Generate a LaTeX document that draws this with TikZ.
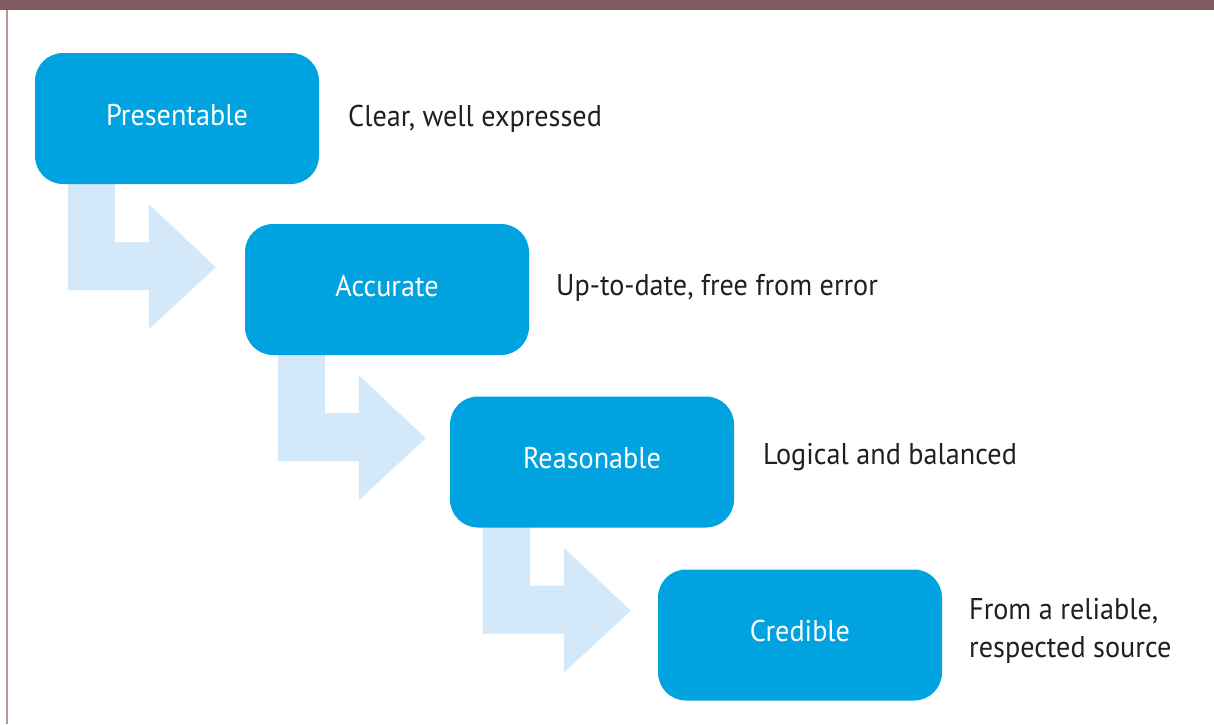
\documentclass[tikz,border=0pt]{standalone}
\usepackage{fontspec}
\setmainfont[FakeStretch=0.94]{PT Sans}
\usetikzlibrary{calc,backgrounds}
\definecolor{barcol}{HTML}{7F5A60}
\definecolor{linecol}{HTML}{B9969D}
\definecolor{boxblue}{HTML}{00A3E0}
\definecolor{arrblue}{HTML}{D3E8F9}
\definecolor{txtcol}{HTML}{231F20}
\tikzset{
  stepbox/.style={fill=boxblue, rounded corners=28pt, minimum width=284pt, minimum height=131pt,
    inner sep=0pt, text=white, text height=21pt, text depth=8pt, font=\fontsize{30}{34}\selectfont},
  desc/.style={anchor=base west, text=txtcol, inner sep=0pt, align=left, font=\fontsize{30}{38}\selectfont},
  flowarrow/.style={fill=arrblue},
}
\begin{document}
\begin{tikzpicture}[x=1pt,y=1pt]
\useasboundingbox (0,0) rectangle (1214,-724);
\fill[barcol] (0,0) rectangle (1214,-10);
\draw[linecol, line width=1.5pt] (7,-10) -- (7,-724);
% boxes
\node[stepbox] (b1) at (177,-118.5) {Presentable};
\node[stepbox] (b2) at (387,-289.5) {Accurate};
\node[stepbox] (b3) at (592,-462) {Reasonable};
\node[stepbox] (b4) at (800,-635) {Credible};
% arrows (behind boxes)
\begin{pgfonlayer}{background}
\foreach \b in {b1,b2,b3}{
  \fill[flowarrow, shift={(\b.south west)}] (33,10) -- (80,10) -- (80,-58) -- (114,-58) -- (114,-20)
    -- (181,-83) -- (114,-145) -- (114,-106) -- (33,-106) -- cycle;
}
\end{pgfonlayer}
% descriptions
\node[desc] (d1) at (348,-126) {Clear, well expressed};
\node[desc] (d2) at (556,-295) {Up-to-date, free from error};
\node[desc] (d3) at (763,-464) {Logical and balanced};
\node[desc] (d4) at (969,-657) {From a reliable,\\respected source};
\end{tikzpicture}
\end{document}
